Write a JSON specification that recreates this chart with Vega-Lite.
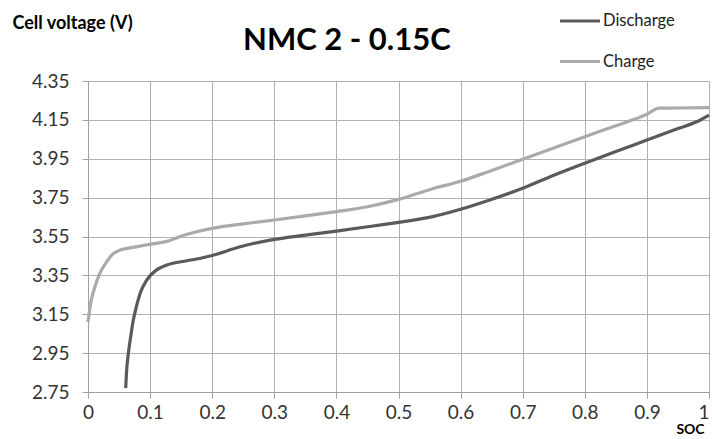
{
  "$schema": "https://vega.github.io/schema/vega-lite/v6.json",
  "width": 621,
  "height": 311,
  "autosize": {"type": "none"},
  "padding": {"left": 88, "top": 81, "right": 4, "bottom": 47},
  "background": "white",
  "config": {"font": "Lato", "view": {"stroke": null}},
  "title": {
    "text": "NMC 2 - 0.15C",
    "fontSize": 31,
    "fontWeight": "bold",
    "font": "Lato",
    "color": "#000000",
    "anchor": "start",
    "frame": "group",
    "dx": 155,
    "offset": -82,
    "baseline": "alphabetic"
  },
  "data": {
    "values": [
      {"soc": 0.0, "v": 3.11, "series": "Charge"},
      {"soc": 0.005, "v": 3.22, "series": "Charge"},
      {"soc": 0.01, "v": 3.28, "series": "Charge"},
      {"soc": 0.019, "v": 3.36, "series": "Charge"},
      {"soc": 0.03, "v": 3.42, "series": "Charge"},
      {"soc": 0.041, "v": 3.463, "series": "Charge"},
      {"soc": 0.052, "v": 3.48, "series": "Charge"},
      {"soc": 0.075, "v": 3.495, "series": "Charge"},
      {"soc": 0.1, "v": 3.51, "series": "Charge"},
      {"soc": 0.127, "v": 3.525, "series": "Charge"},
      {"soc": 0.153, "v": 3.555, "series": "Charge"},
      {"soc": 0.18, "v": 3.578, "series": "Charge"},
      {"soc": 0.2, "v": 3.592, "series": "Charge"},
      {"soc": 0.25, "v": 3.615, "series": "Charge"},
      {"soc": 0.3, "v": 3.635, "series": "Charge"},
      {"soc": 0.35, "v": 3.656, "series": "Charge"},
      {"soc": 0.4, "v": 3.678, "series": "Charge"},
      {"soc": 0.45, "v": 3.703, "series": "Charge"},
      {"soc": 0.5, "v": 3.741, "series": "Charge"},
      {"soc": 0.555, "v": 3.796, "series": "Charge"},
      {"soc": 0.6, "v": 3.834, "series": "Charge"},
      {"soc": 0.65, "v": 3.89, "series": "Charge"},
      {"soc": 0.7, "v": 3.947, "series": "Charge"},
      {"soc": 0.75, "v": 4.005, "series": "Charge"},
      {"soc": 0.8, "v": 4.063, "series": "Charge"},
      {"soc": 0.85, "v": 4.12, "series": "Charge"},
      {"soc": 0.9, "v": 4.179, "series": "Charge"},
      {"soc": 0.92, "v": 4.21, "series": "Charge"},
      {"soc": 0.95, "v": 4.211, "series": "Charge"},
      {"soc": 1.0, "v": 4.213, "series": "Charge"},
      {"soc": 0.0607, "v": 2.77, "series": "Discharge"},
      {"soc": 0.062, "v": 2.85, "series": "Discharge"},
      {"soc": 0.065, "v": 2.95, "series": "Discharge"},
      {"soc": 0.069, "v": 3.04, "series": "Discharge"},
      {"soc": 0.073, "v": 3.12, "series": "Discharge"},
      {"soc": 0.078, "v": 3.19, "series": "Discharge"},
      {"soc": 0.084, "v": 3.258, "series": "Discharge"},
      {"soc": 0.0945, "v": 3.326, "series": "Discharge"},
      {"soc": 0.11, "v": 3.377, "series": "Discharge"},
      {"soc": 0.127, "v": 3.403, "series": "Discharge"},
      {"soc": 0.159, "v": 3.425, "series": "Discharge"},
      {"soc": 0.18, "v": 3.437, "series": "Discharge"},
      {"soc": 0.2, "v": 3.452, "series": "Discharge"},
      {"soc": 0.245, "v": 3.497, "series": "Discharge"},
      {"soc": 0.3, "v": 3.535, "series": "Discharge"},
      {"soc": 0.35, "v": 3.557, "series": "Discharge"},
      {"soc": 0.4, "v": 3.578, "series": "Discharge"},
      {"soc": 0.45, "v": 3.6, "series": "Discharge"},
      {"soc": 0.5, "v": 3.623, "series": "Discharge"},
      {"soc": 0.555, "v": 3.652, "series": "Discharge"},
      {"soc": 0.6, "v": 3.69, "series": "Discharge"},
      {"soc": 0.647, "v": 3.738, "series": "Discharge"},
      {"soc": 0.7, "v": 3.798, "series": "Discharge"},
      {"soc": 0.75, "v": 3.865, "series": "Discharge"},
      {"soc": 0.8, "v": 3.927, "series": "Discharge"},
      {"soc": 0.85, "v": 3.987, "series": "Discharge"},
      {"soc": 0.9, "v": 4.046, "series": "Discharge"},
      {"soc": 0.95, "v": 4.105, "series": "Discharge"},
      {"soc": 0.98, "v": 4.14, "series": "Discharge"},
      {"soc": 1.0, "v": 4.175, "series": "Discharge"}
    ]
  },
  "mark": {"type": "line", "strokeWidth": 3.2, "interpolate": "monotone", "strokeCap": "butt"},
  "encoding": {
    "x": {
      "field": "soc",
      "type": "quantitative",
      "scale": {"domain": [0, 1], "nice": false, "zero": false},
      "axis": {
        "values": [0, 0.1, 0.2, 0.3, 0.4, 0.5, 0.6, 0.7, 0.8, 0.9, 1],
        "format": "~g",
        "title": "SOC",
        "titleFontSize": 14,
        "titleFontWeight": "bold",
        "titleColor": "#000000",
        "titleAlign": "center",
        "titleBaseline": "alphabetic",
        "titleAnchor": null,
        "titleX": 602,
        "titleY": 41,
        "labelFontSize": 19,
        "labelColor": "#333333",
        "labelPadding": 5,
        "labelFlush": false,
        "labelOverlap": false,
        "labelAlign": {"expr": "datum.value == 1 ? 'right' : 'center'"},
        "tickColor": "#a0a0a0",
        "tickSize": 6,
        "domainColor": "#a0a0a0",
        "gridColor": "#b0b0b0",
        "grid": true
      }
    },
    "y": {
      "field": "v",
      "type": "quantitative",
      "scale": {"domain": [2.75, 4.35], "nice": false, "zero": false},
      "axis": {
        "values": [2.75, 2.95, 3.15, 3.35, 3.55, 3.75, 3.95, 4.15, 4.35],
        "format": ".2f",
        "title": "Cell voltage  (V)",
        "titleAngle": 0,
        "titleFontSize": 18,
        "titleFontWeight": "bold",
        "titleColor": "#000000",
        "titleAlign": "left",
        "titleBaseline": "alphabetic",
        "titleAnchor": null,
        "titleX": -76,
        "titleY": -53,
        "labelFontSize": 19,
        "labelColor": "#333333",
        "labelPadding": 13,
        "labelOverlap": false,
        "tickColor": "#a0a0a0",
        "tickSize": 6,
        "domainColor": "#a0a0a0",
        "gridColor": "#b0b0b0",
        "grid": true
      }
    },
    "color": {
      "field": "series",
      "type": "nominal",
      "scale": {"domain": ["Discharge", "Charge"], "range": ["#5a5a5a", "#aaaaaa"]},
      "legend": {
        "title": null,
        "orient": "none",
        "legendX": 470,
        "legendY": -82,
        "padding": 0,
        "symbolType": "stroke",
        "symbolSize": 1600,
        "symbolStrokeWidth": 3.2,
        "labelFontSize": 16.5,
        "labelColor": "#222222",
        "labelOffset": 1,
        "rowPadding": 9.5
      }
    }
  }
}
